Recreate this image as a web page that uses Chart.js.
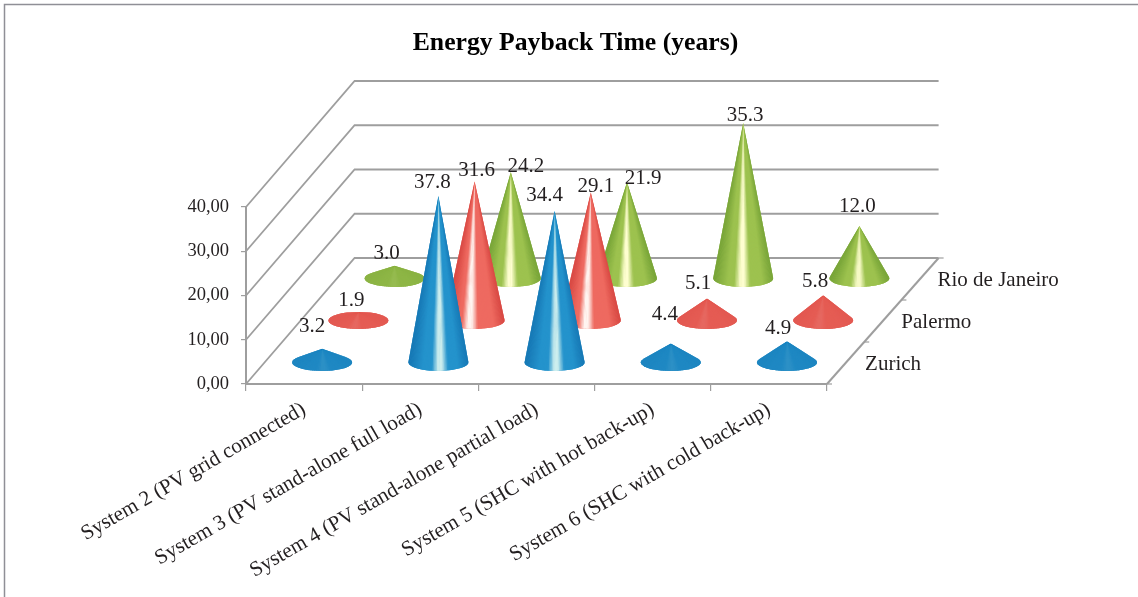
<!DOCTYPE html>
<html>
<head>
<meta charset="utf-8">
<style>
  html, body { margin: 0; padding: 0; background: #fff; }
  canvas { display: block; }
</style>
<script src="https://cdn.jsdelivr.net/npm/chart.js@4/dist/chart.umd.min.js"></script>
</head>
<body>
<canvas id="conechart" width="1138" height="597"></canvas>
<script>
const categories = [
  'System 2 (PV grid connected)',
  'System 3 (PV stand-alone full load)',
  'System 4 (PV stand-alone partial load)',
  'System 5 (SHC with hot back-up)',
  'System 6 (SHC with cold back-up)'
];
const zurich = [3.2, 37.8, 34.4, 4.4, 4.9];
const palermo = [1.9, 31.6, 29.1, 5.1, 5.8];
const rio = [3.0, 24.2, 21.9, 35.3, 12.0];
const valueTicks = [0, 10, 20, 30, 40];

const FONT = '"Liberation Serif", "Times New Roman", serif';
const GREY = '#9e9e9e';

// oblique projection of the floor, px per depth row
const DEPTH_X = 36.2;
const DEPTH_Y = 42;
const ROWS = 3;
const BACK_EXTRA = 3; // the back wall runs a little wider than the front edge
const CONE_RX = 30;
const CONE_RY = 8.5;

// colours of the shaded cone surface: edge, body, highlight, highlight position
const shades = {
  Zurich: ['#1472b0', '#2493cc', '#cdeeee', 0.52],
  Palermo: ['#d2403c', '#ee6a60', '#fff4f0', 0.42],
  'Rio de Janeiro': ['#6f9d33', '#9dc24f', '#fefed0', 0.48]
};

// hand placed data labels in the original, dx/dy from the cone tip
const labelShift = {
  Zurich: [[-10, -22], [-6, -13], [-10, -15], [-6, -29], [-9, -13]],
  Palermo: [[-7, -12], [2, -11], [5, -6], [-9, -15], [-8, -14]],
  'Rio de Janeiro': [[-8, -12], [15, -5], [16, -4], [2, -7], [-2, -19]]
};

function rgb(hex) {
  return [1, 3, 5].map(i => parseInt(hex.substr(i, 2), 16));
}
function mix(a, b, t) {
  return a.map((v, i) => v + (b[i] - v) * t);
}
function css(c) {
  return 'rgb(' + c.map(Math.round).join(',') + ')';
}

function ramp(shade, f) {
  const edge = rgb(shade[0]), body = rgb(shade[1]), light = rgb(shade[2]), p = shade[3];
  if (f < 0.25) return mix(edge, body, f / 0.25);
  if (f < p - 0.13) return body;
  if (f < p - 0.03) return mix(body, light, (f - p + 0.13) / 0.1);
  if (f < p + 0.03) return light;
  if (f < p + 0.13) return mix(light, body, (f - p - 0.03) / 0.1);
  if (f < 0.8) return body;
  return mix(body, edge, (f - 0.8) / 0.2);
}

function drawCone(ctx, cx, cy, tipY, shade) {
  const h = cy - tipY;
  const sin0 = h > CONE_RY ? -CONE_RY / h : -1;
  const t0 = Math.asin(sin0);
  const strength = Math.max(0, Math.min(1, (h - 25) / 30));
  // flat cones catch no highlight and sit closer to the edge colour
  const body = mix(rgb(shade[1]), rgb(shade[0]), 0.35 * (1 - strength));

  ctx.save();
  ctx.beginPath();
  ctx.moveTo(cx, tipY);
  ctx.lineTo(cx + CONE_RX * Math.cos(t0), cy + CONE_RY * Math.sin(t0));
  ctx.ellipse(cx, cy, CONE_RX, CONE_RY, 0, t0, Math.PI - t0);
  ctx.closePath();
  ctx.fillStyle = css(body);
  ctx.fill();
  ctx.clip();

  // fan of slices so the shading converges on the tip
  const n = 70;
  for (let i = 0; i < n; i++) {
    const a = t0 + (Math.PI - 2 * t0) * i / n;
    const b = t0 + (Math.PI - 2 * t0) * (i + 1.4) / n;
    const f = (1 + Math.cos((a + b) / 2)) / 2;
    const c = css(mix(body, ramp(shade, f), Math.max(strength, 0.08)));
    ctx.beginPath();
    ctx.moveTo(cx, tipY);
    ctx.lineTo(cx + (CONE_RX + 2) * Math.cos(a), cy + (CONE_RY + 2) * Math.sin(a));
    ctx.lineTo(cx + (CONE_RX + 2) * Math.cos(b), cy + (CONE_RY + 2) * Math.sin(b));
    ctx.closePath();
    ctx.fillStyle = c;
    ctx.fill();
  }
  ctx.restore();
}

const conePlugin = {
  id: 'cones',
  beforeDraw(chart) {
    const ctx = chart.ctx;
    ctx.save();
    ctx.fillStyle = '#fff';
    ctx.fillRect(0, 0, chart.width, chart.height);
    // outer frame of the figure
    ctx.strokeStyle = '#8f8f96';
    ctx.lineWidth = 1.5;
    ctx.beginPath();
    ctx.moveTo(4.5, chart.height);
    ctx.lineTo(4.5, 4.5);
    ctx.lineTo(chart.width, 4.5);
    ctx.stroke();
    ctx.restore();
  },
  beforeDatasetsDraw(chart) {
    const ctx = chart.ctx, y = chart.scales.y, x = chart.scales.x;
    const dx = DEPTH_X * ROWS, dy = DEPTH_Y * ROWS;
    ctx.save();
    ctx.strokeStyle = GREY;
    ctx.lineWidth = 1.8;
    valueTicks.forEach(v => {
      const py = y.getPixelForValue(v);
      ctx.beginPath();
      ctx.moveTo(x.left, py);
      ctx.lineTo(x.left + dx, py - dy);
      ctx.lineTo(x.right + dx + BACK_EXTRA, py - dy);
      ctx.stroke();
    });
    // right edge of the floor and its row ticks
    ctx.lineWidth = 2;
    ctx.beginPath();
    ctx.moveTo(x.right, y.bottom);
    ctx.lineTo(x.right + dx + BACK_EXTRA, y.bottom - dy);
    ctx.stroke();
    ctx.lineWidth = 1.2;
    for (let r = 0; r <= ROWS; r++) {
      const px = x.right + r * (DEPTH_X + BACK_EXTRA / ROWS), py = y.bottom - r * DEPTH_Y;
      ctx.beginPath();
      ctx.moveTo(px, py);
      ctx.lineTo(px + 5, py);
      ctx.stroke();
    }
    ctx.restore();
  },
  beforeDatasetDraw() {
    return false; // bars are replaced by the cones below
  },
  afterDatasetsDraw(chart) {
    const ctx = chart.ctx, x = chart.scales.x, y = chart.scales.y;
    const rows = chart.data.datasets.map((ds, i) => {
      const row = i + 0.5;
      return { ds, row, meta: chart.getDatasetMeta(i) };
    });

    // back row first so the front cones cover it
    rows.slice().reverse().forEach(r => {
      r.meta.data.forEach(bar => {
        const ox = r.row * DEPTH_X, oy = r.row * DEPTH_Y;
        drawCone(ctx, bar.x + ox, bar.base - oy, bar.y - oy, shades[r.ds.label]);
      });
    });

    ctx.save();
    ctx.fillStyle = '#231f20';
    ctx.textAlign = 'center';
    ctx.textBaseline = 'middle';
    ctx.font = '21px ' + FONT;
    rows.forEach(r => {
      r.meta.data.forEach((bar, j) => {
        const s = labelShift[r.ds.label][j];
        const tx = bar.x + r.row * DEPTH_X + s[0];
        const ty = bar.y - r.row * DEPTH_Y + s[1];
        ctx.fillText(r.ds.data[j].toFixed(1), tx, ty);
      });
    });

    // depth axis names
    ctx.textAlign = 'left';
    ctx.font = '21px ' + FONT;
    rows.forEach(r => {
      ctx.fillText(r.ds.label, x.right + r.row * DEPTH_X + 20, y.bottom - r.row * DEPTH_Y + 1.5);
    });
    ctx.restore();
  }
};

new Chart(document.getElementById('conechart').getContext('2d'), {
  type: 'bar',
  plugins: [conePlugin],
  data: {
    labels: categories,
    datasets: [
      { label: 'Zurich', data: zurich, backgroundColor: '#2493cc' },
      { label: 'Palermo', data: palermo, backgroundColor: '#ee6a60' },
      { label: 'Rio de Janeiro', data: rio, backgroundColor: '#9dc24f' }
    ]
  },
  options: {
    responsive: false,
    animation: false,
    events: [],
    grouped: false,
    layout: { padding: { left: 13, right: 0, top: 0, bottom: 0 } },
    plugins: {
      legend: { display: false },
      tooltip: { enabled: false },
      title: {
        display: true,
        text: 'Energy Payback Time (years)',
        color: '#000',
        font: { family: FONT, size: 25.7, weight: 'bold' },
        padding: { top: 27.5, bottom: 148.66 }
      }
    },
    scales: {
      x: {
        offset: true,
        afterFit(scale) { scale.height = 213; },
        border: { color: GREY, width: 2 },
        grid: { drawOnChartArea: false, drawTicks: true, tickLength: 7, color: GREY, lineWidth: 1.2 },
        ticks: {
          color: '#231f20',
          font: { family: FONT, size: 21.2 },
          minRotation: 30,
          maxRotation: 30,
          autoSkip: false,
          padding: 6
        }
      },
      y: {
        min: 0,
        max: 40,
        afterFit(scale) { scale.width = 233; },
        border: { color: GREY, width: 2 },
        grid: { drawOnChartArea: false, drawTicks: true, tickLength: 5, color: GREY, lineWidth: 1.2 },
        ticks: {
          color: '#231f20',
          font: { family: FONT, size: 18.5 },
          padding: 12,
          stepSize: 10,
          callback: v => v.toFixed(2).replace('.', ',')
        }
      },
      // keeps the plot clear of the depth labels so the title stays centred on the figure
      depth: {
        position: 'right',
        type: 'category',
        labels: ['Zurich', 'Palermo', 'Rio de Janeiro'],
        afterFit(scale) { scale.width = 311; },
        border: { display: false },
        grid: { display: false },
        ticks: { display: false }
      }
    }
  }
});
</script>
</body>
</html>
